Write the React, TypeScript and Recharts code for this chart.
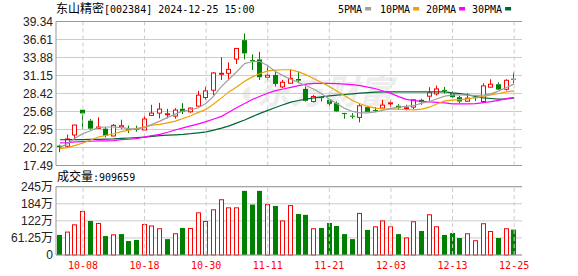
import { ComposedChart, Bar, Line, XAxis, YAxis, CartesianGrid, ReferenceLine } from 'recharts';

// trading days shown (index 0 = 09-26)
const dates = [
  '09-26', '09-27', '09-30', '10-08', '10-09', '10-10', '10-11', '10-14', '10-15', '10-16',
  '10-17', '10-18', '10-21', '10-22', '10-23', '10-24', '10-25', '10-28', '10-29', '10-30',
  '10-31', '11-01', '11-04', '11-05', '11-06', '11-07', '11-08', '11-11', '11-12', '11-13',
  '11-14', '11-15', '11-18', '11-19', '11-20', '11-21', '11-22', '11-25', '11-26', '11-27',
  '11-28', '11-29', '12-02', '12-03', '12-04', '12-05', '12-06', '12-09', '12-10', '12-11',
  '12-12', '12-13', '12-16', '12-17', '12-18', '12-19', '12-20', '12-23', '12-24', '12-25',
];

const opens = [
  20.50, 20.41, 22.12, 25.95, 24.29, 23.13, 23.08, 21.97, 23.33, 23.08,
  23.08, 22.88, 25.09, 25.44, 25.19, 24.99, 26.10, 25.64, 26.50, 27.81,
  28.91, 31.33, 31.48, 33.64, 36.51, 33.49, 33.59, 30.88, 31.23, 29.42,
  29.97, 30.62, 29.11, 27.20, 27.86, 27.46, 26.95, 25.44, 25.04, 24.79,
  26.35, 25.90, 26.20, 26.85, 26.55, 26.15, 26.35, 27.46, 28.01, 28.36,
  28.96, 28.46, 27.86, 27.25, 27.86, 27.20, 29.37, 29.82, 29.06, 30.67,
];
const highs = [
  20.65, 22.17, 23.63, 25.95, 24.54, 24.79, 23.33, 23.78, 24.44, 23.53,
  23.53, 24.99, 26.70, 27.00, 26.10, 26.20, 26.95, 26.30, 28.81, 29.46,
  31.68, 33.94, 33.14, 35.25, 37.52, 34.35, 34.75, 32.74, 31.88, 30.47,
  32.08, 31.73, 29.47, 28.21, 27.96, 27.46, 27.20, 25.49, 25.44, 26.95,
  26.45, 26.35, 27.46, 27.35, 26.80, 26.70, 27.56, 27.61, 29.37, 29.62,
  29.42, 28.81, 28.06, 28.46, 28.21, 29.97, 30.57, 30.12, 30.57, 31.58,
];
const lows = [
  19.50, 20.16, 21.62, 23.03, 22.93, 23.13, 21.77, 21.92, 23.03, 22.43,
  22.63, 22.78, 24.99, 24.64, 24.64, 24.59, 25.29, 25.49, 26.45, 27.46,
  28.16, 30.47, 30.47, 32.89, 33.59, 31.98, 30.47, 30.47, 29.47, 29.22,
  29.92, 29.97, 27.20, 27.05, 27.20, 26.55, 25.59, 24.59, 24.59, 24.03,
  25.59, 25.59, 26.15, 26.35, 25.95, 25.85, 26.05, 26.70, 27.30, 28.11,
  28.41, 27.76, 26.95, 27.15, 27.30, 27.15, 29.31, 28.96, 28.86, 29.97,
];
const closes = [
  20.30, 21.52, 23.63, 25.39, 23.08, 23.33, 22.02, 23.58, 23.53, 22.98,
  22.98, 24.54, 25.44, 26.05, 25.34, 25.90, 25.64, 26.20, 28.16, 28.81,
  31.53, 31.48, 32.08, 35.25, 34.50, 33.34, 30.88, 31.18, 29.87, 30.12,
  30.72, 30.37, 27.30, 27.96, 27.71, 26.85, 25.70, 25.29, 24.89, 26.55,
  25.64, 25.75, 26.65, 27.00, 26.25, 26.25, 27.46, 27.10, 28.51, 29.11,
  28.81, 27.86, 27.20, 27.71, 27.71, 29.57, 29.82, 29.01, 30.42, 30.52,
];

const ma5 = [
  20.20, 20.81, 21.66, 22.32, 22.77, 23.28, 23.33, 23.33, 23.23, 23.08,
  23.03, 23.23, 23.73, 24.23, 24.79, 25.29, 25.75, 25.95, 26.25, 26.95,
  28.05, 29.50, 30.62, 31.75, 32.95, 33.27, 33.27, 32.64, 31.76, 31.13,
  30.55, 30.08, 29.58, 29.07, 28.37, 27.56, 26.86, 26.15, 25.69, 25.49,
  25.49, 25.64, 25.89, 26.15, 26.35, 26.45, 26.60, 26.95, 27.20, 27.61,
  28.01, 28.21, 28.21, 28.16, 28.11, 28.16, 28.37, 28.82, 29.32, 29.88,
];
const ma10 = [
  20.05, 20.20, 20.55, 20.90, 21.36, 21.81, 22.06, 22.31, 22.62, 22.87,
  23.12, 23.37, 23.62, 23.72, 23.97, 24.23, 24.63, 25.04, 25.55, 26.00,
  26.85, 27.75, 28.70, 29.45, 30.27, 30.94, 31.45, 31.85, 31.97, 32.02,
  32.02, 31.70, 31.25, 30.64, 30.08, 29.47, 28.77, 28.06, 27.35, 26.85,
  26.45, 26.19, 26.09, 26.04, 26.04, 25.99, 25.94, 26.04, 26.34, 26.85,
  27.30, 27.40, 27.50, 27.61, 27.81, 27.96, 28.21, 28.41, 28.66, 28.82,
];
const ma20 = [
  20.91, 20.97, 21.07, 21.12, 21.17, 21.22, 21.22, 21.27, 21.42, 21.47,
  21.57, 21.82, 22.02, 22.22, 22.53, 22.87, 23.20, 23.50, 23.80, 24.15,
  24.55, 24.95, 25.60, 26.30, 26.90, 27.50, 28.00, 28.45, 28.85, 29.10,
  29.35, 29.60, 29.85, 29.95, 29.95, 29.95, 29.90, 29.85, 29.75, 29.60,
  29.39, 29.14, 28.79, 28.44, 27.94, 27.53, 27.33, 27.23, 27.13, 27.08,
  26.98, 26.83, 26.83, 26.83, 26.88, 27.03, 27.18, 27.38, 27.63, 27.78,
];
const ma30 = [
  21.40, 21.41, 21.42, 21.43, 21.44, 21.46, 21.48, 21.52, 21.60, 21.66,
  21.72, 21.80, 21.92, 22.02, 22.10, 22.15, 22.22, 22.32, 22.45, 22.60,
  22.85, 23.15, 23.50, 23.95, 24.40, 24.90, 25.40, 25.85, 26.30, 26.70,
  27.10, 27.35, 27.55, 27.75, 27.90, 28.06, 28.16, 28.26, 28.36, 28.46,
  28.56, 28.61, 28.66, 28.66, 28.66, 28.66, 28.66, 28.66, 28.66, 28.66,
  28.66, 28.51, 28.41, 28.21, 27.96, 27.76, 27.66, 27.56, 27.61, 27.76,
];

// volume in 万手
const vols = [
  72, 84, 110, 158, 122, 115, 68, 74, 75, 50,
  54, 111, 106, 96, 57, 78, 97, 97, 153, 122,
  164, 200, 171, 171, 230, 181, 230, 183, 176, 124,
  179, 147, 144, 96, 97, 115, 104, 75, 57, 151,
  90, 103, 124, 103, 75, 63, 121, 86, 146, 103,
  72, 79, 61, 78, 53, 114, 86, 61, 96, 91,
];
// 1 = red (up) volume bar, 0 = green
const volUp = [
  0, 1, 1, 1, 0, 1, 0, 1, 0, 0,
  0, 1, 1, 1, 0, 1, 0, 1, 1, 1,
  1, 1, 1, 1, 0, 0, 0, 1, 0, 1,
  1, 0, 0, 1, 0, 0, 0, 0, 0, 1,
  0, 1, 1, 1, 0, 1, 1, 0, 1, 1,
  0, 0, 0, 1, 1, 1, 1, 0, 1, 0,
];

const priceTicks = [17.49, 20.22, 22.95, 25.68, 28.42, 31.15, 33.88, 36.61, 39.34];
const volTicks = [0, 61.25, 122.5, 183.75, 245];
const volTickLabels = ['0', '61.25万', '122万', '184万', '245万'];
const dateTicks = ['10-08', '10-18', '10-30', '11-11', '11-21', '12-03', '12-13', '12-25'];

const data = dates.map((d, i) => ({
  date: d,
  open: opens[i],
  high: highs[i],
  low: lows[i],
  close: closes[i],
  ma5: ma5[i],
  ma10: ma10[i],
  ma20: ma20[i],
  ma30: ma30[i],
  vol: vols[i],
  volUp: volUp[i],
}));

const RED = '#ff0000';
const GREEN = '#008000';
const GRID = '#cccccc';
const FRAME = '#999999';
const MONO = '"DejaVu Sans Mono", "Liberation Mono", monospace';
const CJK = '"Noto Sans CJK SC", sans-serif';
const AXIS_FONT = '"Liberation Sans", Arial, "Noto Sans CJK SC", sans-serif';
const xPad = { left: 0, right: 4 };

function Candle(props: any) {
  const { x, y, width, height, payload } = props;
  if (x == null || !payload) return null;
  const top = Math.min(y, y + height);
  const h = Math.abs(height);
  const { open, close, high, low } = payload;
  const py = (v: number) => top + ((high - v) / (high - low)) * h;
  const left = Math.round(x + width / 2 - 2.5);
  const cx = left + 2.5;
  const up = close >= open;
  const color = up ? RED : GREEN;
  const bTop = py(Math.max(open, close));
  const bh = Math.max(1, py(Math.min(open, close)) - bTop);
  return (
    <g>
      <line x1={cx} x2={cx} y1={top} y2={bTop} stroke={color} />
      <line x1={cx} x2={cx} y1={bTop + bh} y2={top + h} stroke={color} />
      {up ? (
        <rect x={left + 0.5} y={bTop} width={4} height={bh} fill="#fff" stroke={color} />
      ) : (
        <rect x={left} y={bTop} width={5} height={bh} fill={color} />
      )}
    </g>
  );
}

function VolBar(props: any) {
  const { x, y, width, height, payload } = props;
  if (x == null || !payload) return null;
  const left = Math.round(x + width / 2 - 2.5);
  if (payload.volUp) {
    return <rect x={left + 0.5} y={y + 0.5} width={4} height={Math.max(0, height - 0.5)} fill="#fff" stroke={RED} />;
  }
  return <rect x={left} y={y} width={5} height={height} fill={GREEN} />;
}

const legend = [
  { label: '5PMA', color: '#a0a0a0', x: 338 },
  { label: '10PMA', color: '#f0a000', x: 380 },
  { label: '20PMA', color: '#ff00ff', x: 426 },
  { label: '30PMA', color: '#006633', x: 472 },
];

export default function App() {
  return (
    <div style={{ position: 'absolute', left: 0, top: 0, width: 578, height: 276, background: '#fff' }}>
      {/* watermark */}
      <svg width={578} height={276} style={{ position: 'absolute', left: 0, top: 0 }}>
        <text x={236} y={104} fontSize={34} fontFamily={CJK} fontWeight={700} fontStyle="italic" fill="#ededed">
          ◖东方财富
        </text>
      </svg>

      <div style={{ position: 'absolute', left: 0, top: 0 }}>
        <ComposedChart width={578} height={180} data={data} margin={{ top: 21.5, right: 56, bottom: 14.5, left: 0 }}>
          <CartesianGrid vertical={false} stroke={GRID} />
          <XAxis dataKey="date" hide padding={xPad} />
          <YAxis
            domain={[17.49, 39.34]}
            ticks={priceTicks}
            interval={0}
            width={56}
            tickSize={0}
            tickMargin={3}
            axisLine={{ stroke: FRAME }}
            tick={{ fill: '#222', fontSize: 12, fontFamily: AXIS_FONT }}
            tickFormatter={v => v.toFixed(2)}
            allowDataOverflow
          />
          <YAxis yAxisId="r" orientation="right" width={0} tick={false} tickLine={false} axisLine={{ stroke: FRAME }} />
          {dateTicks.map(d => (
            <ReferenceLine key={d} x={d} stroke={GRID} strokeDasharray="4 3" />
          ))}
          <ReferenceLine y={39.34} stroke={FRAME} />
          <ReferenceLine y={17.49} stroke={FRAME} />
          <Bar dataKey={(d: any) => [d.low, d.high]} barSize={5} shape={Candle} isAnimationActive={false} />
          <Line dataKey="ma30" type="linear" stroke="#006633" strokeWidth={1.2} dot={false} isAnimationActive={false} />
          <Line dataKey="ma20" type="linear" stroke="#ff00ff" strokeWidth={1.2} dot={false} isAnimationActive={false} />
          <Line dataKey="ma10" type="linear" stroke="#f0a000" strokeWidth={1.2} dot={false} isAnimationActive={false} />
          <Line dataKey="ma5" type="linear" stroke="#a0a0a0" strokeWidth={1.2} dot={false} isAnimationActive={false} />
        </ComposedChart>
      </div>

      <div style={{ position: 'absolute', left: 0, top: 170 }}>
        <ComposedChart width={578} height={106} data={data} margin={{ top: 16.7, right: 56, bottom: 0, left: 0 }}>
          <CartesianGrid vertical={false} stroke={GRID} />
          <XAxis
            dataKey="date"
            ticks={dateTicks}
            interval={0}
            padding={xPad}
            height={21}
            tickSize={0}
            tickMargin={7}
            axisLine={{ stroke: FRAME }}
            tick={{ fill: RED, fontSize: 10, fontFamily: MONO }}
          />
          <YAxis
            domain={[0, 245]}
            ticks={volTicks}
            interval={0}
            width={56}
            tickSize={0}
            tickMargin={3}
            axisLine={{ stroke: FRAME }}
            tick={{ fill: '#222', fontSize: 12, fontFamily: AXIS_FONT }}
            tickFormatter={v => volTickLabels[volTicks.indexOf(v)] ?? String(v)}
          />
          <YAxis yAxisId="r" orientation="right" width={0} tick={false} tickLine={false} axisLine={{ stroke: FRAME }} />
          {dateTicks.map(d => (
            <ReferenceLine key={d} x={d} stroke={GRID} strokeDasharray="4 3" />
          ))}
          <ReferenceLine y={245} stroke={FRAME} />
          <Bar dataKey="vol" barSize={5} shape={VolBar} isAnimationActive={false} />
        </ComposedChart>
      </div>

      {/* header, legend, volume caption */}
      <svg width={578} height={276} style={{ position: 'absolute', left: 0, top: 0, pointerEvents: 'none' }}>
        <text x={56} y={13} fill="#000">
          <tspan fontFamily={CJK} fontSize={12}>东山精密</tspan>
          <tspan fontFamily={MONO} fontSize={10}>[002384] 2024-12-25 15:00</tspan>
        </text>
        {legend.map(l => (
          <g key={l.label}>
            <text x={l.x} y={12.5} fontFamily={MONO} fontSize={10} fill="#000">{l.label}</text>
            <rect x={l.x + l.label.length * 6.02 + 3} y={7} width={6} height={3.5} fill={l.color} />
          </g>
        ))}
        <text x={57} y={181} fill="#000">
          <tspan fontFamily={CJK} fontSize={12}>成交量</tspan>
          <tspan fontFamily={MONO} fontSize={10}>:909659</tspan>
        </text>
      </svg>
    </div>
  );
}
